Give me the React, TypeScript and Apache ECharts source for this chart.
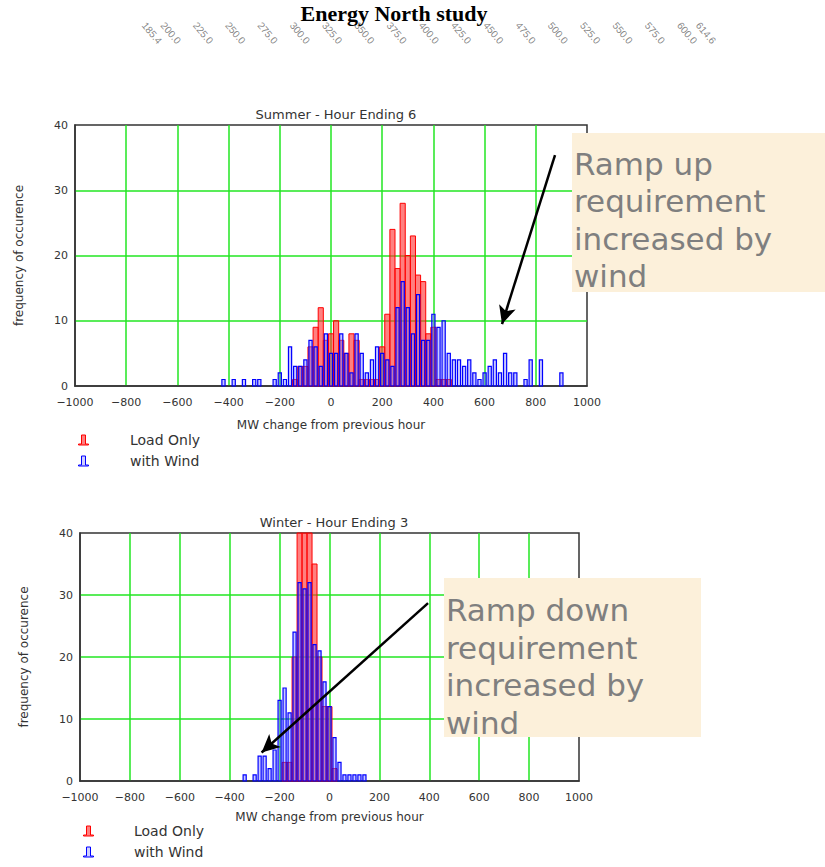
import React, { useEffect, useRef } from "react";
import * as echarts from "echarts";

// ---------------- data ----------------
const BIN_WIDTH = 20; // MW per histogram bin

const summerLoadBins = [-140, -120, -100, -80, -60, -40, -20, 0, 20, 40, 60, 80, 100, 120, 140, 160, 180, 200, 220, 240, 260, 280, 300, 320, 340, 360, 380, 400, 420, 440, 460];
const summerLoadCounts = [1, 3, 3, 6, 9, 12, 7, 8, 10, 7, 5, 8, 7, 1, 1, 1, 1, 6, 11, 24, 18, 28, 20, 23, 17, 16, 8, 9, 1, 1, 1];

const summerWindBins = [-420, -380, -340, -300, -280, -220, -200, -180, -160, -140, -120, -100, -80, -60, -40, -20, 0, 20, 40, 60, 80, 100, 120, 140, 160, 180, 200, 220, 240, 260, 280, 300, 320, 340, 360, 380, 400, 420, 440, 460, 480, 500, 520, 540, 560, 580, 600, 620, 640, 660, 680, 700, 720, 760, 780, 820, 900];
const summerWindCounts = [1, 1, 1, 1, 1, 1, 2, 1, 6, 3, 3, 4, 7, 6, 3, 8, 5, 5, 8, 5, 2, 8, 5, 2, 4, 6, 5, 4, 3, 12, 16, 12, 8, 14, 7, 7, 11, 9, 10, 5, 4, 4, 3, 4, 2, 1, 2, 3, 4, 2, 5, 2, 2, 1, 4, 4, 2];

const winterLoadBins = [-180, -160, -140, -120, -100, -80, -60, -40, -20, 0, 20];
const winterLoadCounts = [3, 3, 20, 45, 45, 45, 35, 20, 12, 12, 2];

const winterWindBins = [-340, -300, -280, -260, -240, -220, -200, -180, -160, -140, -120, -100, -80, -60, -40, -20, 0, 20, 40, 60, 80, 100, 120, 140];
const winterWindCounts = [1, 1, 4, 4, 2, 5, 13, 15, 11, 24, 32, 31, 32, 22, 21, 16, 12, 7, 3, 1, 1, 1, 1, 1];

const topScaleValues = [185.4, 200, 225, 250, 275, 300, 325, 350, 375, 400, 425, 450, 475, 500, 525, 550, 575, 600, 614.6];

const xMin = -1000;
const xMax = 1000;
const xStep = 200;
const yMin = 0;
const yMax = 40;
const yStep = 10;

const pageTitle = "Energy North study";
const summerTitle = "Summer - Hour Ending 6";
const winterTitle = "Winter - Hour Ending 3";
const xName = "MW change from previous hour";
const yName = "frequency of occurence";
const loadName = "Load Only";
const windName = "with Wind";
const summerNote = "Ramp up\nrequirement\nincreased by\nwind";
const winterNote = "Ramp down\nrequirement\nincreased by\nwind";

// annotation arrows (data coordinates: [MW, frequency])
const summerArrow = { from: [875, 35.4], to: [668, 9.5] };
const winterArrow = { from: [395, 28.7], to: [-272, 4.6] };

// ---------------- styles ----------------
const FONT = "DejaVu Sans";
const TXT = "#333";
const GREEN = "#22e622";
const RED_FILL = "rgba(255,50,50,0.62)";
const RED_LINE = "#ff0000";
const BLUE_FILL = "rgba(110,110,255,0.38)";
const BLUE_LINE = "#0000ff";
const BAR_ICON = "path://M0,9L3,9L3,0L7,0L7,9L10,9L10,10L0,10Z";

const zip = (a: number[], b: number[]) => a.map((v, i) => [v, b[i]]);

const makeBar = (widthFrac: number, fill: string, stroke: string, lw: number) =>
  (params: any, api: any) => {
    const c = api.value(0);
    const n = api.value(1);
    const half = (BIN_WIDTH * widthFrac) / 2;
    const tl = api.coord([c - half, n]);
    const br = api.coord([c + half, 0]);
    const cs = params.coordSys;
    const shape = echarts.graphic.clipRectByRect(
      { x: tl[0], y: tl[1], width: br[0] - tl[0], height: br[1] - tl[1] },
      { x: cs.x, y: cs.y, width: cs.width, height: cs.height }
    );
    if (!shape) return null;
    return { type: "rect", shape, style: { fill, stroke, lineWidth: lw } };
  };

const xAxisFor = (gridIndex: number, nameGap: number) => ({
  gridIndex,
  type: "value",
  min: xMin,
  max: xMax,
  interval: xStep,
  axisLine: { show: true, onZero: false, lineStyle: { color: "#333", width: 1.5 } },
  axisTick: { show: false },
  splitLine: { show: true, showMinLine: false, showMaxLine: false, lineStyle: { color: GREEN, width: 1.5 } },
  axisLabel: {
    color: TXT,
    fontFamily: FONT,
    fontSize: 11,
    margin: 11,
    formatter: (v: number) => String(v).replace("-", "\u2212"),
  },
  name: xName,
  nameLocation: "middle",
  nameGap,
  nameTextStyle: { color: TXT, fontFamily: FONT, fontSize: 12 },
});

const yAxisFor = (gridIndex: number) => ({
  gridIndex,
  type: "value",
  min: yMin,
  max: yMax,
  interval: yStep,
  axisLine: { show: true, onZero: false, lineStyle: { color: "#333", width: 1.5 } },
  axisTick: { show: false },
  splitLine: { show: true, showMinLine: false, showMaxLine: false, lineStyle: { color: GREEN, width: 1.5 } },
  axisLabel: { color: TXT, fontFamily: FONT, fontSize: 11, margin: 7 },
  name: yName,
  nameLocation: "middle",
  nameGap: 50,
  nameTextStyle: { color: TXT, fontFamily: FONT, fontSize: 12 },
});

const arrowSeries = (idx: number, arrow: { from: number[]; to: number[] }) => ({
  type: "line",
  xAxisIndex: idx,
  yAxisIndex: idx,
  data: [],
  z: 6,
  silent: true,
  markLine: {
    silent: true,
    symbol: ["none", "arrow"],
    symbolSize: [13, 18],
    label: { show: false },
    lineStyle: { color: "#000", width: 2.5, type: "solid" },
    itemStyle: { color: "#000" },
    data: [[{ coord: arrow.from }, { coord: arrow.to }]],
  },
});

const legendFor = (left: number, top: number, pad: number) => ({
  left,
  top,
  orient: "vertical",
  itemGap: 7,
  itemWidth: 13,
  itemHeight: 10,
  selectedMode: false,
  textStyle: { color: TXT, fontFamily: FONT, fontSize: 14, padding: [0, 0, 0, pad] },
  data: [
    { name: loadName, icon: BAR_ICON, itemStyle: { color: RED_FILL, borderColor: RED_LINE, borderWidth: 1 } },
    { name: windName, icon: BAR_ICON, itemStyle: { color: "rgba(160,160,255,0.5)", borderColor: BLUE_LINE, borderWidth: 1 } },
  ],
});

export default function App() {
  const ref = useRef<HTMLDivElement>(null);

  useEffect(() => {
    if (!ref.current) return;
    const chart = echarts.init(ref.current, undefined, { renderer: "svg" });

    const option: any = {
      animation: false,
      backgroundColor: "#ffffff",
      title: [
        { text: summerTitle, left: 331, top: 103, textAlign: "center", textStyle: { color: TXT, fontFamily: FONT, fontSize: 13, fontWeight: "normal" } },
        { text: winterTitle, left: 329, top: 511, textAlign: "center", textStyle: { color: TXT, fontFamily: FONT, fontSize: 13, fontWeight: "normal" } },
      ],
      legend: [legendFor(73, 428, 35), legendFor(78, 819, 34)],
      grid: [
        { left: 75, right: 238, top: 125, height: 261, show: true, borderColor: "#333", borderWidth: 1.5, backgroundColor: "transparent" },
        { left: 80, right: 246, top: 533, height: 248, show: true, borderColor: "#333", borderWidth: 1.5, backgroundColor: "transparent" },
        { left: 152, right: 119, top: 32, height: 2 },
      ],
      xAxis: [
        xAxisFor(0, 33),
        xAxisFor(1, 30),
        { gridIndex: 2, type: "value", min: topScaleValues[0], max: topScaleValues[topScaleValues.length - 1], show: false },
      ],
      yAxis: [
        yAxisFor(0),
        yAxisFor(1),
        { gridIndex: 2, type: "value", min: 0, max: 1, show: false },
      ],
      series: [
        {
          type: "custom", name: loadName, xAxisIndex: 0, yAxisIndex: 0, z: 2,
          renderItem: makeBar(1, RED_FILL, RED_LINE, 1),
          encode: { x: 0, y: 1 }, data: zip(summerLoadBins, summerLoadCounts),
          itemStyle: { color: RED_FILL, borderColor: RED_LINE },
        },
        {
          type: "custom", name: windName, xAxisIndex: 0, yAxisIndex: 0, z: 3,
          renderItem: makeBar(0.62, BLUE_FILL, BLUE_LINE, 1.2),
          encode: { x: 0, y: 1 }, data: zip(summerWindBins, summerWindCounts),
          itemStyle: { color: BLUE_FILL, borderColor: BLUE_LINE },
        },
        arrowSeries(0, summerArrow),
        {
          type: "custom", name: loadName, xAxisIndex: 1, yAxisIndex: 1, z: 2,
          renderItem: makeBar(1, RED_FILL, RED_LINE, 1),
          encode: { x: 0, y: 1 }, data: zip(winterLoadBins, winterLoadCounts),
          itemStyle: { color: RED_FILL, borderColor: RED_LINE },
        },
        {
          type: "custom", name: windName, xAxisIndex: 1, yAxisIndex: 1, z: 3,
          renderItem: makeBar(0.62, BLUE_FILL, BLUE_LINE, 1.2),
          encode: { x: 0, y: 1 }, data: zip(winterWindBins, winterWindCounts),
          itemStyle: { color: BLUE_FILL, borderColor: BLUE_LINE },
        },
        arrowSeries(1, winterArrow),
        {
          type: "scatter", xAxisIndex: 2, yAxisIndex: 2, silent: true,
          symbolSize: 1, itemStyle: { color: "rgba(0,0,0,0)" },
          data: topScaleValues.map((v) => [v, 0.5]),
          label: {
            show: true, position: "inside", rotate: -50, align: "center", verticalAlign: "middle",
            color: "#666", fontFamily: "Liberation Sans", fontSize: 10,
            formatter: (p: any) => Number(p.value[0]).toFixed(1),
          },
        },
      ],
      graphic: [
        {
          type: "text", x: 394, y: 13, z: 100,
          style: { text: pageTitle, fontFamily: "Liberation Serif", fontWeight: "bold", fontSize: 22, fill: "#000", align: "center", verticalAlign: "middle", textAlign: "center", textVerticalAlign: "middle" },
        },
        { type: "rect", z: 100, shape: { x: 572, y: 133, width: 253, height: 159 }, style: { fill: "#fcf0da" } },
        {
          type: "text", x: 574, y: 145, z: 101,
          style: { text: summerNote, fontFamily: FONT, fontSize: 31, lineHeight: 37.5, fill: "#7f7f7f", align: "left", verticalAlign: "top", textAlign: "left", textVerticalAlign: "top" },
        },
        { type: "rect", z: 100, shape: { x: 444, y: 578, width: 257, height: 159 }, style: { fill: "#fcf0da" } },
        {
          type: "text", x: 446, y: 591, z: 101,
          style: { text: winterNote, fontFamily: FONT, fontSize: 31, lineHeight: 37.7, fill: "#7f7f7f", align: "left", verticalAlign: "top", textAlign: "left", textVerticalAlign: "top" },
        },
      ],
    };

    chart.setOption(option);
    return () => chart.dispose();
  }, []);

  return (
    <div
      ref={ref}
      style={{ position: "absolute", left: 0, top: 0, width: 825, height: 867 }}
    />
  );
}
